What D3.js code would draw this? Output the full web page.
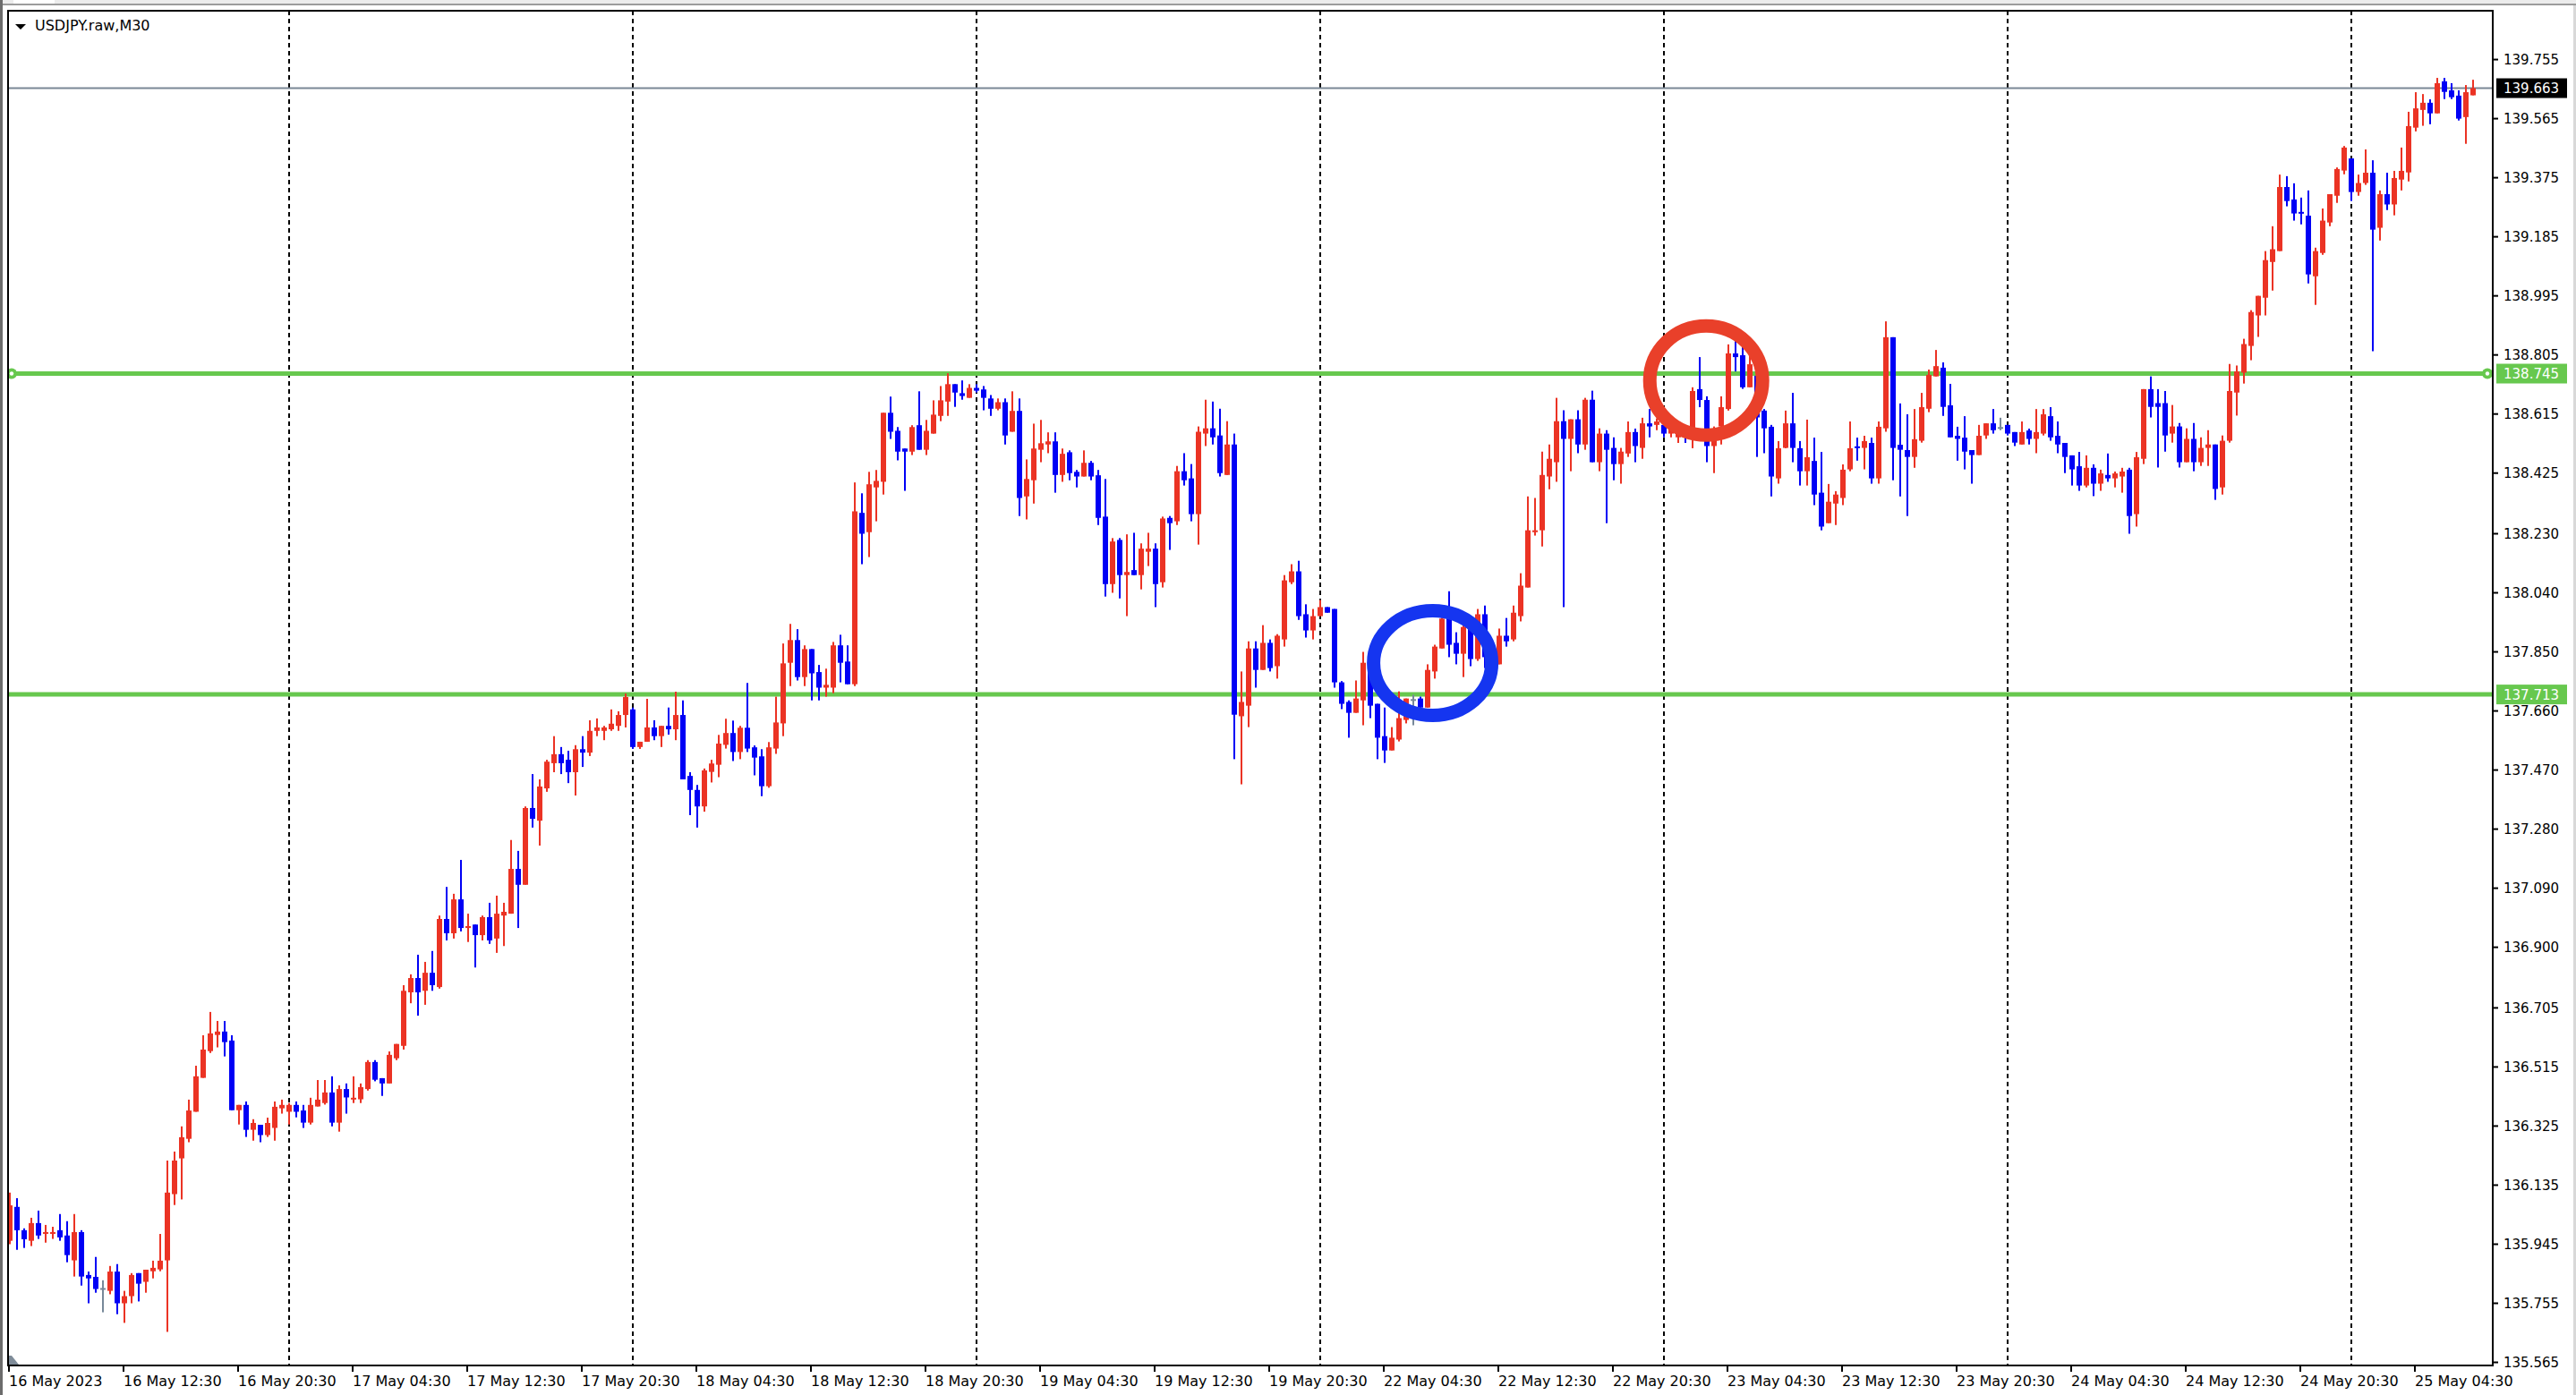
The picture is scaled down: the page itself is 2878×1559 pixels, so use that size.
<!DOCTYPE html>
<html>
<head>
<meta charset="utf-8">
<title>USDJPY.raw,M30</title>
<script src="https://cdn.jsdelivr.net/npm/d3@7"></script>
<style>
  html, body { margin: 0; padding: 0; background: #fff; overflow: hidden; }
  svg { display: block; font-family: "DejaVu Sans", sans-serif; }
</style>
</head>
<body>
<svg id="chart"></svg>
<script>
// M30 candles, one array per trading day, rows are [open, high, low, close]
const may16 = [
  [135.956,136.111,135.945,136.070],[136.065,136.093,135.927,135.990],[135.990,135.996,135.933,135.961],
  [135.956,136.030,135.939,136.013],[136.013,136.053,135.962,135.973],[135.979,136.007,135.950,135.984],
  [135.979,136.001,135.962,135.984],[135.990,136.042,135.956,135.967],[135.973,136.019,135.887,135.910],
  [135.893,136.042,135.841,135.984],[135.984,135.990,135.812,135.841],[135.846,135.857,135.755,135.835],
  [135.840,135.904,135.789,135.801],[135.804,135.829,135.726,135.804],[135.795,135.875,135.784,135.857],
  [135.857,135.881,135.720,135.755],[135.755,135.795,135.692,135.778],[135.778,135.852,135.755,135.846],
  [135.852,135.852,135.761,135.818],[135.824,135.863,135.789,135.863],[135.858,135.892,135.835,135.869],
  [135.864,135.978,135.858,135.892],[135.893,136.214,135.663,136.111],[136.106,136.243,136.071,136.214],
  [136.221,136.324,136.089,136.289],[136.284,136.410,136.273,136.375],[136.371,136.519,136.371,136.485],
  [136.480,136.617,136.480,136.571],[136.566,136.692,136.560,136.623],[136.618,136.663,136.578,136.629],
  [136.629,136.663,136.549,136.595],[136.600,136.617,136.376,136.376],[136.376,136.393,136.330,136.393],
  [136.393,136.404,136.290,136.313],[136.313,136.347,136.278,136.335],[136.329,136.329,136.273,136.296],
  [136.296,136.352,136.290,136.335],[136.319,136.404,136.278,136.387],[136.382,136.410,136.365,136.393]
];
const may17 = [
  [136.371,136.399,136.330,136.393],[136.393,136.404,136.353,136.371],[136.375,136.393,136.319,136.336],
  [136.336,136.416,136.330,136.393],[136.388,136.473,136.388,136.410],[136.399,136.473,136.394,136.433],
  [136.433,136.485,136.324,136.336],[136.336,136.456,136.307,136.444],[136.444,136.462,136.365,136.417],
  [136.411,136.485,136.399,136.416],[136.411,136.462,136.399,136.450],[136.444,136.537,136.439,136.531],
  [136.531,136.537,136.469,136.474],[136.479,136.479,136.422,136.462],[136.462,136.565,136.462,136.554],
  [136.543,136.589,136.537,136.589],[136.583,136.778,136.571,136.760],[136.755,136.813,136.720,136.801],
  [136.801,136.876,136.680,136.755],[136.760,136.853,136.715,136.818],[136.818,136.888,136.760,136.778],
  [136.772,137.002,136.767,136.991],[136.991,137.094,136.922,136.945],[136.945,137.072,136.928,137.054],
  [137.054,137.181,136.951,136.962],[136.962,137.008,136.917,136.968],[136.973,136.973,136.835,136.939],
  [136.939,137.002,136.922,136.997],[136.997,137.043,136.911,136.922],[136.928,137.066,136.882,137.008],
  [137.002,137.043,136.904,137.014],[137.008,137.245,137.008,137.152],[137.152,137.210,136.962,137.101],
  [137.101,137.353,137.101,137.348],[137.348,137.457,137.285,137.313],[137.307,137.440,137.227,137.417],
  [137.411,137.503,137.400,137.497],[137.492,137.579,137.463,137.521],[137.521,137.544,137.457,137.492],
  [137.503,137.532,137.428,137.463],[137.463,137.550,137.388,137.537],[137.537,137.579,137.480,137.526],
  [137.526,137.630,137.515,137.596],[137.596,137.636,137.579,137.607],[137.596,137.612,137.566,137.607],
  [137.601,137.665,137.596,137.619],[137.612,137.659,137.596,137.647],[137.647,137.716,137.607,137.705]
];
const may18 = [
  [137.665,137.671,137.538,137.544],[137.544,137.561,137.538,137.561],[137.561,137.699,137.561,137.607],
  [137.607,137.630,137.566,137.579],[137.579,137.612,137.544,137.612],[137.612,137.671,137.584,137.601],
  [137.601,137.722,137.566,137.647],[137.647,137.694,137.440,137.440],[137.451,137.463,137.325,137.406],
  [137.406,137.422,137.285,137.353],[137.353,137.475,137.336,137.469],[137.464,137.503,137.430,137.491],
  [137.487,137.583,137.447,137.555],[137.551,137.635,137.539,137.589],[137.589,137.629,137.499,137.528],
  [137.528,137.612,137.505,137.606],[137.606,137.750,137.528,137.539],[137.543,137.549,137.453,137.510],
  [137.514,137.537,137.386,137.418],[137.418,137.560,137.413,137.543],[137.539,137.706,137.522,137.623],
  [137.620,137.877,137.579,137.813],[137.815,137.940,137.740,137.888],[137.888,137.923,137.758,137.769],
  [137.769,137.871,137.740,137.859],[137.859,137.859,137.694,137.781],[137.785,137.808,137.694,137.735],
  [137.735,137.796,137.706,137.744],[137.735,137.882,137.717,137.871],[137.871,137.905,137.752,137.815],
  [137.819,137.871,137.746,137.746],[137.746,138.395,137.740,138.302],[138.297,138.360,138.132,138.230],
  [138.235,138.429,138.155,138.389],[138.379,138.435,138.270,138.400],[138.397,138.619,138.356,138.619],
  [138.619,138.671,138.535,138.558],[138.561,138.573,138.466,138.494],[138.504,138.504,138.368,138.494],
  [138.494,138.579,138.483,138.573],[138.579,138.688,138.500,138.500],[138.500,138.596,138.483,138.561],
  [138.552,138.659,138.552,138.613],[138.609,138.705,138.592,138.659],[138.655,138.746,138.609,138.711],
  [138.711,138.711,138.638,138.684],[138.682,138.723,138.661,138.673],[138.667,138.711,138.667,138.699]
];
const may19 = [
  [138.699,138.711,138.684,138.690],[138.694,138.705,138.627,138.667],[138.665,138.676,138.609,138.632],
  [138.632,138.665,138.627,138.653],[138.653,138.665,138.517,138.546],[138.558,138.688,138.558,138.625],
  [138.625,138.665,138.287,138.345],[138.350,138.469,138.276,138.406],[138.402,138.584,138.327,138.504],
  [138.500,138.596,138.460,138.521],[138.517,138.556,138.489,138.527],[138.527,138.556,138.362,138.419],
  [138.419,138.504,138.397,138.487],[138.492,138.498,138.402,138.425],[138.429,138.435,138.379,138.414],
  [138.414,138.498,138.414,138.458],[138.458,138.464,138.402,138.414],[138.418,138.435,138.258,138.281],
  [138.285,138.406,138.028,138.068],[138.068,138.216,138.040,138.205],[138.210,138.216,138.022,138.097],
  [138.097,138.228,137.965,138.107],[138.113,138.233,138.097,138.097],[138.097,138.199,138.051,138.182],
  [138.172,138.233,138.126,138.182],[138.182,138.199,137.994,138.068],[138.074,138.285,138.057,138.279],
  [138.281,138.287,138.178,138.264],[138.270,138.448,138.258,138.431],[138.431,138.489,138.385,138.402],
  [138.408,138.454,138.270,138.293],[138.293,138.575,138.195,138.558],[138.552,138.661,138.512,138.569],
  [138.569,138.655,138.517,138.540],[138.546,138.632,138.414,138.425],[138.419,138.592,138.419,138.517],
  [138.517,138.552,137.505,137.648],[137.643,137.787,137.424,137.689],[137.677,137.884,137.608,137.861],
  [137.861,137.884,137.735,137.792],[137.792,137.936,137.792,137.879],[137.879,137.890,137.787,137.798],
  [137.804,137.907,137.764,137.902],[137.890,138.097,137.867,138.080],[138.074,138.132,138.068,138.109],
  [138.109,138.143,137.953,137.965],[137.971,138.003,137.896,137.919],[137.919,137.988,137.890,137.965]
];
const may22 = [
  [137.965,138.017,137.965,137.994],[137.994,137.994,137.976,137.976],[137.988,137.988,137.735,137.752],
  [137.752,137.756,137.666,137.683],[137.689,137.694,137.574,137.654],[137.654,137.758,137.654,137.700],
  [137.694,137.850,137.614,137.815],[137.810,137.825,137.637,137.677],[137.683,137.683,137.505,137.574],
  [137.579,137.671,137.493,137.533],[137.533,137.608,137.533,137.574],[137.568,137.723,137.562,137.637],
  [137.631,137.700,137.620,137.700],[137.698,137.712,137.614,137.698],[137.700,137.706,137.671,137.671],
  [137.671,137.810,137.671,137.792],[137.787,137.873,137.764,137.867],[137.861,137.960,137.861,137.957],
  [137.957,138.045,137.833,137.873],[137.879,137.913,137.810,137.844],[137.844,137.936,137.769,137.930],
  [137.930,137.942,137.804,137.827],[137.827,137.988,137.821,137.971],[137.971,137.999,137.798,137.833],
  [137.833,137.870,137.800,137.845],[137.810,137.925,137.810,137.902],[137.902,137.959,137.867,137.884],
  [137.890,137.999,137.884,137.976],[137.965,138.103,137.948,138.063],[138.057,138.350,138.057,138.241],
  [138.235,138.345,138.224,138.241],[138.241,138.494,138.189,138.419],[138.414,138.517,138.373,138.471],
  [138.460,138.667,138.397,138.592],[138.592,138.627,137.994,138.535],[138.535,138.598,138.431,138.598],
  [138.598,138.627,138.489,138.517],[138.517,138.667,138.500,138.661],[138.661,138.690,138.460,138.460],
  [138.460,138.569,138.431,138.552],[138.552,138.563,138.264,138.500],[138.506,138.540,138.402,138.454],
  [138.454,138.506,138.391,138.494],[138.488,138.591,138.477,138.557],[138.557,138.568,138.460,138.512],
  [138.506,138.603,138.471,138.585],[138.585,138.631,138.540,138.575],[138.580,138.601,138.563,138.591]
];
const may23 = [
  [138.580,138.584,138.540,138.552],[138.552,138.585,138.540,138.565],[138.540,138.580,138.522,138.560],
  [138.560,138.575,138.522,138.540],[138.570,138.701,138.505,138.689],[138.695,138.798,138.637,138.660],
  [138.660,138.672,138.460,138.512],[138.512,138.575,138.425,138.560],[138.575,138.672,138.517,138.637],
  [138.631,138.839,138.626,138.810],[138.810,138.850,138.752,138.798],[138.804,138.839,138.696,138.701],
  [138.701,138.804,138.701,138.775],[138.738,138.752,138.477,138.604],[138.626,138.631,138.489,138.569],
  [138.574,138.580,138.350,138.414],[138.408,138.528,138.391,138.505],[138.506,138.626,138.505,138.585],
  [138.585,138.683,138.460,138.506],[138.505,138.528,138.385,138.431],[138.431,138.597,138.385,138.476],
  [138.464,138.539,138.322,138.356],[138.362,138.493,138.241,138.253],[138.264,138.390,138.264,138.333],
  [138.327,138.367,138.258,138.356],[138.345,138.453,138.322,138.436],[138.437,138.591,138.431,138.505],
  [138.511,138.539,138.465,138.506],[138.506,138.545,138.437,138.528],[138.522,138.539,138.391,138.408],
  [138.408,138.591,138.391,138.574],[138.569,138.913,138.558,138.862],[138.862,138.862,138.402,138.506],
  [138.516,138.649,138.350,138.500],[138.499,138.614,138.287,138.477],[138.477,138.631,138.442,138.534],
  [138.529,138.683,138.523,138.637],[138.632,138.758,138.621,138.741],[138.736,138.821,138.736,138.769],
  [138.764,138.781,138.609,138.638],[138.643,138.712,138.540,138.540],[138.545,138.574,138.465,138.535],
  [138.539,138.608,138.437,138.494],[138.499,138.499,138.391,138.483],[138.483,138.580,138.483,138.545],
  [138.546,138.585,138.535,138.585],[138.585,138.631,138.552,138.563],[138.573,138.603,138.563,138.573]
];
const may24 = [
  [138.580,138.580,138.546,138.552],[138.557,138.557,138.512,138.523],[138.517,138.591,138.517,138.557],
  [138.562,138.568,138.517,138.535],[138.535,138.631,138.489,138.557],[138.552,138.631,138.546,138.614],
  [138.608,138.637,138.529,138.540],[138.545,138.591,138.489,138.517],[138.522,138.522,138.425,138.477],
  [138.482,138.482,138.385,138.437],[138.447,138.493,138.368,138.385],[138.385,138.482,138.379,138.442],
  [138.442,138.453,138.351,138.391],[138.391,138.436,138.368,138.424],[138.419,138.488,138.397,138.408],
  [138.408,138.430,138.379,138.424],[138.414,138.442,138.362,138.430],[138.436,138.442,138.230,138.287],
  [138.293,138.493,138.253,138.476],[138.471,138.695,138.454,138.695],[138.695,138.736,138.604,138.638],
  [138.650,138.695,138.443,138.638],[138.650,138.689,138.494,138.546],[138.552,138.644,138.523,138.575],
  [138.575,138.586,138.443,138.460],[138.460,138.569,138.460,138.535],[138.535,138.586,138.431,138.460],
  [138.460,138.540,138.448,138.506],[138.506,138.563,138.448,138.517],[138.517,138.517,138.339,138.374],
  [138.379,138.546,138.356,138.529],[138.529,138.776,138.523,138.689],[138.684,138.771,138.610,138.752],
  [138.748,138.857,138.713,138.840],[138.834,138.949,138.788,138.943],[138.932,138.995,138.863,138.995],
  [138.989,139.139,138.932,139.110],[139.104,139.219,139.012,139.145],[139.139,139.385,139.139,139.345],
  [139.345,139.380,139.283,139.300],[139.305,139.357,139.237,139.260],[139.265,139.311,139.225,139.260],
  [139.253,139.334,139.035,139.064],[139.058,139.150,138.966,139.139],[139.133,139.276,139.127,139.237],
  [139.231,139.322,139.219,139.322],[139.317,139.408,139.294,139.403],[139.398,139.477,139.386,139.472]
];
const may25 = [
  [139.437,139.437,139.300,139.329],[139.329,139.385,139.317,139.358],[139.358,139.466,139.352,139.391],
  [139.391,139.431,138.817,139.208],[139.214,139.334,139.173,139.322],[139.322,139.391,139.271,139.289],
  [139.289,139.397,139.254,139.374],[139.369,139.472,139.334,139.397],[139.392,139.587,139.363,139.541],
  [139.536,139.650,139.524,139.598],[139.593,139.644,139.542,139.616],[139.616,139.627,139.547,139.582],
  [139.582,139.696,139.582,139.679],[139.685,139.696,139.628,139.651],[139.656,139.679,139.628,139.634],
  [139.639,139.656,139.559,139.565],[139.570,139.673,139.484,139.650],[139.640,139.690,139.640,139.663]
];
const sessions = [may16, may17, may18, may19, may22, may23, may24, may25];

// time axis: one label every 16 bars (8 hours)
const timeLabels = [
  '16 May 2023', '16 May 12:30', '16 May 20:30', '17 May 04:30', '17 May 12:30', '17 May 20:30',
  '18 May 04:30', '18 May 12:30', '18 May 20:30', '19 May 04:30', '19 May 12:30', '19 May 20:30',
  '22 May 04:30', '22 May 12:30', '22 May 20:30', '23 May 04:30', '23 May 12:30', '23 May 20:30',
  '24 May 04:30', '24 May 12:30', '24 May 20:30', '25 May 04:30'
];
const priceLabels = [
  '139.755', '139.565', '139.375', '139.185', '138.995', '138.805', '138.615', '138.425',
  '138.230', '138.040', '137.850', '137.660', '137.470', '137.280', '137.090', '136.900',
  '136.705', '136.515', '136.325', '136.135', '135.945', '135.755', '135.565'
];
const levels = [138.745, 137.713];   // horizontal lines
const lastPrice = 139.663;
// circled spots: [bar index, price]
const marks = [[236.9, 138.723], [198.7, 137.814]];

const W = 2878, H = 1559;
const plot = { left: 9, top: 12, right: 2785, bottom: 1526 };
const red = '#eb3324', blue = '#0000f5', doji = '#778899', green = '#67c84e';
const markColors = ['#e9402a', '#1535f0'];

const candles = sessions.flat();
const dayStarts = d3.cumsum(sessions, d => d.length).slice(0, -1);

const x = d3.scaleLinear().domain([0, candles.length - 1]).range([11, 11 + 8 * (candles.length - 1)]);
const y = d3.scaleLinear().domain([135.555, 139.912]).range([plot.bottom, plot.top]);

const svg = d3.select('#chart').attr('width', W).attr('height', H);

// window chrome
svg.append('rect').attr('width', W).attr('height', H).attr('fill', '#fff');
svg.append('rect').attr('width', W).attr('height', 4).attr('fill', '#ececec');
svg.append('rect').attr('x', 15).attr('width', 46).attr('height', 4).attr('fill', '#fff');
svg.append('rect').attr('y', 4).attr('width', W).attr('height', 2).attr('fill', '#9c9c9c');
svg.append('rect').attr('width', 3).attr('height', H).attr('fill', '#6c6c6c');
svg.append('rect').attr('x', W - 3).attr('y', 6).attr('width', 3).attr('height', H).attr('fill', '#d8d8d8');

svg.append('clipPath').attr('id', 'plot-clip').append('rect')
  .attr('x', plot.left).attr('y', plot.top)
  .attr('width', plot.right - plot.left).attr('height', plot.bottom - plot.top);
const g = svg.append('g').attr('clip-path', 'url(#plot-clip)');

// day separators
g.selectAll('line.day').data(dayStarts).join('line')
  .attr('x1', d => x(d)).attr('x2', d => x(d))
  .attr('y1', plot.top).attr('y2', plot.bottom)
  .attr('stroke', '#000').attr('stroke-width', 2).attr('stroke-dasharray', '5,4');

// bid line
g.append('line')
  .attr('x1', plot.left).attr('x2', plot.right)
  .attr('y1', y(lastPrice)).attr('y2', y(lastPrice))
  .attr('stroke', '#7a8896').attr('stroke-width', 2);

// horizontal levels
g.selectAll('line.level').data(levels).join('line')
  .attr('x1', plot.left).attr('x2', plot.right)
  .attr('y1', d => y(d)).attr('y2', d => y(d))
  .attr('stroke', green).attr('stroke-width', 5);

// candles
const colorOf = d => d[3] > d[0] ? red : d[3] < d[0] ? blue : doji;
const bar = g.selectAll('g.bar').data(candles).join('g').attr('fill', colorOf);
bar.append('rect')
  .attr('x', (d, i) => x(i) - 1).attr('width', 2)
  .attr('y', d => y(d[1])).attr('height', d => Math.max(1, y(d[2]) - y(d[1])));
bar.append('rect')
  .attr('x', (d, i) => x(i) - 3).attr('width', 6)
  .attr('y', d => y(Math.max(d[0], d[3])))
  .attr('height', d => Math.max(2, Math.abs(y(d[0]) - y(d[3]))));

// anchor points of the selected level
g.selectAll('circle.anchor').data([plot.left + 4, plot.right - 6]).join('circle')
  .attr('cx', d => d).attr('cy', y(levels[0])).attr('r', 6).attr('fill', green);
g.selectAll('circle.hole').data([plot.left + 4, plot.right - 6]).join('circle')
  .attr('cx', d => d).attr('cy', y(levels[0])).attr('r', 2.2).attr('fill', '#fff');

// hand drawn rings
g.selectAll('ellipse').data(marks).join('ellipse')
  .attr('cx', d => x(d[0])).attr('cy', d => y(d[1]))
  .attr('rx', (d, i) => i === 0 ? 63 : 66).attr('ry', (d, i) => i === 0 ? 61 : 58.5)
  .attr('fill', 'none').attr('stroke', (d, i) => markColors[i]).attr('stroke-width', 15);

// small corner marker
svg.append('path').attr('d', `M${plot.left + 1},${plot.bottom - 11} L${plot.left + 4},${plot.bottom - 11} L${plot.left + 12},${plot.bottom - 1} L${plot.left + 1},${plot.bottom - 1} Z`)
  .attr('fill', '#7f8c99');

// frame
svg.append('rect')
  .attr('x', plot.left).attr('y', plot.top)
  .attr('width', plot.right - plot.left).attr('height', plot.bottom - plot.top)
  .attr('fill', 'none').attr('stroke', '#000').attr('stroke-width', 2);

// price axis
const py = svg.append('g');
py.selectAll('line').data(priceLabels).join('line')
  .attr('x1', plot.right).attr('x2', plot.right + 6)
  .attr('y1', d => y(+d)).attr('y2', d => y(+d))
  .attr('stroke', '#000').attr('stroke-width', 2);
py.selectAll('text').data(priceLabels).join('text')
  .attr('x', plot.right + 12).attr('y', d => y(+d))
  .attr('dy', '0.36em').attr('font-size', 15).attr('fill', '#000')
  .text(d => d);

// price tags
const tags = [{ v: lastPrice, fill: '#000' }, { v: levels[0], fill: green }, { v: levels[1], fill: green }];
const tag = svg.selectAll('g.tag').data(tags).join('g');
tag.append('rect')
  .attr('x', plot.right + 4).attr('width', 79)
  .attr('y', d => y(d.v) - 11).attr('height', 22)
  .attr('fill', d => d.fill);
tag.append('text')
  .attr('x', plot.right + 12).attr('y', d => y(d.v))
  .attr('dy', '0.36em').attr('font-size', 15).attr('fill', '#fff')
  .text(d => d.v.toFixed(3));

// time axis
const tx = svg.append('g');
tx.selectAll('line').data(timeLabels).join('line')
  .attr('x1', (d, k) => x(k * 16) - 1).attr('x2', (d, k) => x(k * 16) - 1)
  .attr('y1', plot.bottom).attr('y2', plot.bottom + 7)
  .attr('stroke', '#000').attr('stroke-width', 2);
tx.selectAll('text').data(timeLabels).join('text')
  .attr('x', (d, k) => x(k * 16) - 1).attr('y', 1549)
  .attr('font-size', 16).attr('fill', '#000')
  .text(d => d);

// symbol caption
svg.append('path').attr('d', 'M17,27 L29,27 L23,33 Z').attr('fill', '#000');
svg.append('text').attr('x', 39).attr('y', 34).attr('font-size', 16).attr('fill', '#000')
  .text('USDJPY.raw,M30');
</script>
</body>
</html>
